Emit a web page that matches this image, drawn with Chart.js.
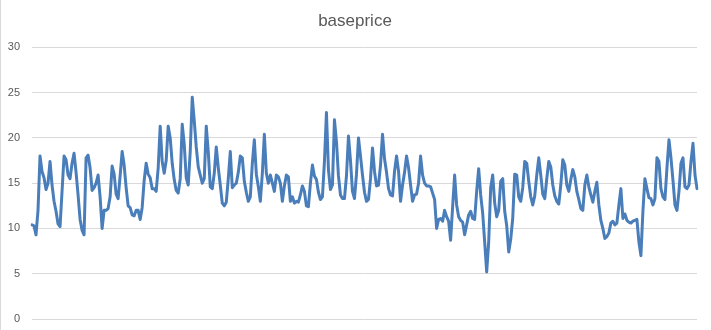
<!DOCTYPE html>
<html>
<head>
<meta charset="utf-8">
<script src="https://cdn.jsdelivr.net/npm/chart.js@4/dist/chart.umd.min.js"></script>
<style>
  html, body { margin: 0; padding: 0; background: #ffffff; }
  #wrap { width: 711px; height: 330px; position: relative; }
</style>
</head>
<body>
<div id="wrap"><canvas id="chart" width="711" height="330"></canvas></div>
<script>
// Daily base price series
const basePrice = [
  10.4, 10.3, 9.3, 12.0, 18.0, 16.3, 15.6, 14.3, 15.0, 17.4, 14.8, 13.0, 11.9, 10.5, 10.2, 14.1, 18.0, 17.6, 15.9, 15.5,
  17.2, 18.3, 16.2, 13.7, 11.0, 9.8, 9.3, 17.8, 18.1, 16.7, 14.2, 14.5, 15.0, 15.9, 13.5, 10.0, 12.0, 12.0, 12.2, 13.5,
  16.9, 16.0, 13.8, 13.3, 15.8, 18.5, 17.0, 14.5, 12.5, 12.3, 11.5, 11.4, 12.0, 12.0, 11.0,
  12.3, 15.3, 17.2, 16.0, 15.6, 14.4, 14.4, 14.1, 16.7, 21.3, 17.4, 16.1, 17.5, 21.3, 20.0, 17.2, 15.4, 14.2, 13.9, 15.5,
  21.5, 19.3, 15.6, 14.8, 18.5, 24.5, 21.9, 19.0, 16.8, 15.9, 15.0, 15.5, 21.3, 18.5, 14.6, 14.4, 16.1, 19.0, 16.7, 14.8,
  12.8, 12.5, 12.9, 15.5, 18.5, 14.5, 14.8, 15.0, 16.2, 18.0, 17.8, 15.2, 14.0, 13.0, 13.5,
  17.2, 19.8, 16.0, 14.6, 13.0, 16.1, 20.4, 16.1, 15.0, 15.9, 15.0, 14.1, 15.9, 15.7, 15.0, 13.0, 14.7, 15.9, 15.7, 13.0,
  13.5, 12.8, 13.0, 12.9, 13.7, 14.7, 14.1, 12.5, 12.4, 15.0, 17.0, 15.8, 15.4, 14.0, 13.2, 13.5, 17.4, 22.8, 16.5, 14.3,
  14.8, 22.0, 19.6, 15.8, 13.7, 13.3, 13.3, 15.8, 20.2, 17.5, 14.1, 13.3, 16.0, 20.0, 18.0,
  15.9, 14.0, 13.0, 13.2, 15.5, 18.9, 16.3, 14.7, 14.8, 17.0, 20.4, 17.7, 16.2, 14.4, 13.7, 13.6, 16.3, 18.0, 16.3, 13.0,
  14.8, 16.2, 18.0, 16.7, 14.8, 13.0, 13.7, 13.8, 15.0, 18.0, 15.9, 15.0, 14.7, 14.7, 14.6, 13.9, 13.2, 10.0, 11.0, 11.1,
  10.8, 12.0, 11.3, 10.8, 8.7, 12.4, 15.9, 12.6, 11.3, 10.9, 10.7, 9.3, 10.4, 11.5, 11.9,
  11.1, 11.0, 14.1, 16.6, 13.7, 11.7, 8.5, 5.2, 8.5, 14.5, 15.9, 12.8, 11.3, 12.0, 15.2, 15.5, 11.9, 10.3, 7.4, 8.8,
  11.1, 16.0, 15.9, 13.5, 13.0, 14.5, 17.4, 17.2, 15.2, 13.5, 12.6, 13.6, 15.9, 17.8, 15.9, 13.8, 13.3, 15.5, 17.4, 16.8,
  14.8, 13.6, 13.0, 12.7, 14.8, 17.6, 17.0, 14.8, 14.1, 15.4, 16.5, 15.7, 14.1, 13.2, 12.2,
  12.0, 14.8, 15.9, 14.6, 13.7, 12.9, 14.1, 15.1, 12.6, 10.9, 10.0, 8.9, 9.1, 9.5, 10.6, 10.8, 10.4, 10.6, 12.6, 14.4,
  11.1, 11.6, 10.9, 10.7, 10.6, 10.8, 10.9, 11.0, 8.5, 7.0, 11.9, 15.5, 14.4, 13.4, 13.3, 12.6, 13.3, 17.8, 17.4, 14.4,
  13.5, 13.2, 16.7, 19.8, 17.8, 15.3, 12.6, 12.0, 14.1, 17.2, 17.8, 14.6, 14.4, 14.8, 17.4, 19.4, 15.9, 14.4
];

// One category per observation
const categories = basePrice.map((_, i) => String(i + 1));

// Value axis ticks
const yMin = 0;
const yMax = 30;
const yStep = 5;

const chartTitle = 'baseprice';

// Thin frame line on the left edge of the chart object,
// and the title centred over the whole chart object rather than the padded box
const frameLine = {
  id: 'frameLine',
  afterLayout(chart) {
    if (chart.titleBlock) {
      chart.titleBlock.left = 13;
    }
  },
  beforeDraw(chart) {
    const ctx = chart.ctx;
    ctx.save();
    ctx.strokeStyle = '#d9d9d9';
    ctx.lineWidth = 1;
    ctx.beginPath();
    ctx.moveTo(0.5, 0);
    ctx.lineTo(0.5, chart.height);
    ctx.stroke();
    ctx.restore();
  }
};

new Chart(document.getElementById('chart'), {
  type: 'line',
  data: {
    labels: categories,
    datasets: [{
      label: chartTitle,
      data: basePrice,
      borderColor: '#4a7ebb',
      backgroundColor: '#4a7ebb',
      borderWidth: 3,
      pointRadius: 0,
      pointHoverRadius: 0,
      tension: 0,
      borderJoinStyle: 'round',
      borderCapStyle: 'round',
      fill: false
    }]
  },
  options: {
    responsive: false,
    animation: false,
    events: [],
    layout: { padding: { left: 0, right: 14, top: 0, bottom: 11 } },
    plugins: {
      legend: { display: false },
      tooltip: { enabled: false },
      title: {
        display: true,
        text: chartTitle,
        color: '#595959',
        font: { family: 'Liberation Sans, Arial, sans-serif', size: 17, weight: 'normal' },
        padding: { top: 11, bottom: 16 }
      }
    },
    scales: {
      x: {
        display: false,
        offset: false
      },
      y: {
        min: yMin,
        max: yMax,
        afterFit(scale) {
          scale.width = 32;
          scale.paddingTop = 0;
          scale.paddingBottom = 0;
        },
        border: { display: false },
        grid: { color: '#d9d9d9', lineWidth: 1, drawTicks: false },
        ticks: {
          stepSize: yStep,
          padding: 12,
          color: '#595959',
          font: { family: 'Liberation Sans, Arial, sans-serif', size: 11 }
        }
      }
    }
  },
  plugins: [frameLine]
});
</script>
</body>
</html>
